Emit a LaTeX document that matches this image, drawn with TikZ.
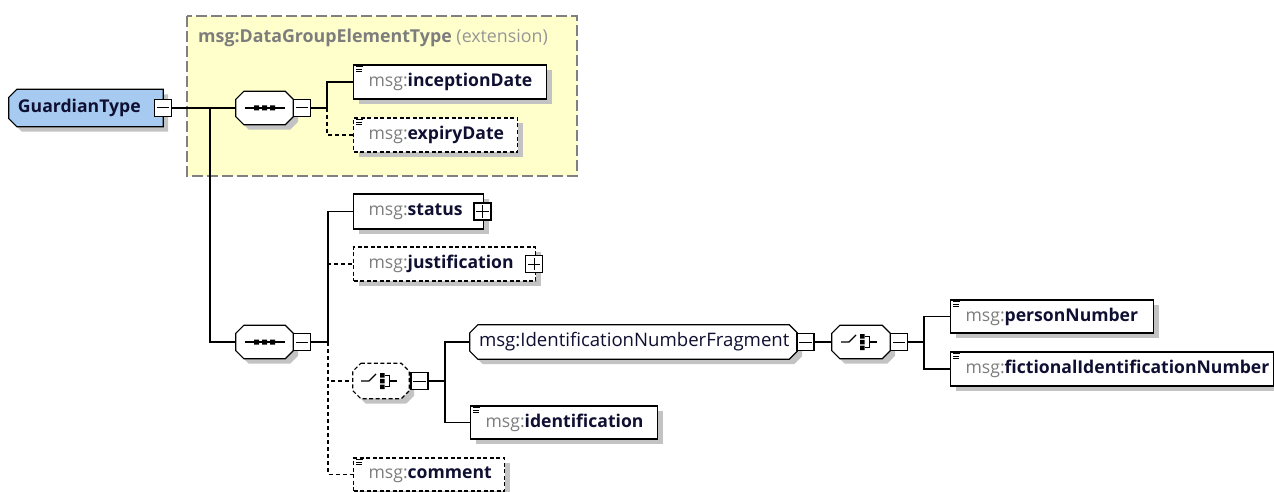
\documentclass[tikz,border=0pt]{standalone}
\usepackage{fontspec}
\setmainfont{Open Sans}
\usetikzlibrary{calc,shadows}
\pgfdeclarelayer{bg}
\pgfsetlayers{bg,main}
\definecolor{navy}{RGB}{15,15,50}
\definecolor{msggray}{RGB}{125,125,125}
\definecolor{extgray}{RGB}{150,150,150}
\definecolor{shadowc}{RGB}{195,195,195}
\definecolor{yelF}{RGB}{255,255,204}
\definecolor{yelD}{RGB}{128,128,128}
\definecolor{blueF}{RGB}{166,202,240}
\newcommand\efont{\fontsize{17.6}{20}\selectfont}
\newcommand\elname[1]{{\color{msggray}msg:}{\bfseries #1}}
\newcommand\chpath[4]{($(#1.north west)+(#2+#4,#4)$) -- ($(#1.north east)+(#4-#3,#4)$) -- ($(#1.north east)+(#4,#3+#4)$) -- ($(#1.south east)+(#4,#4-#3)$) -- ($(#1.south east)+(#4-#3,#4)$) -- ($(#1.south west)+(#2+#4,#4)$) -- ($(#1.south west)+(#4,#4-#2)$) -- ($(#1.north west)+(#4,#2+#4)$) -- cycle}
\newcommand\elem[7][]{\node[ebox,#1,minimum width=#5pt,minimum height=#6pt] (#2) at (#3,#4) {\hbox to #5pt{\hskip15pt #7\hss}};}
\newcommand\docicon[1]{\draw[line width=0.9pt] ($(#1.north west)+(3,2.5)$) -- ++(7,0) ($(#1.north west)+(3,5)$) -- ++(6,0) ($(#1.north west)+(3,7.5)$) -- ++(6,0);}
\newcommand\minusbox[3]{\node[pm] (#1) at (#2,#3) {}; \draw[line width=1pt] ($(#1.west)+(3,0)$) -- ($(#1.east)+(-3,0)$);}
\newcommand\plusbox[3]{\minusbox{#1}{#2}{#3}\draw[line width=1pt] ($(#1.north)+(0,3)$) -- ($(#1.south)+(0,-3)$);}
\newcommand\seqicon[1]{\draw[line width=1.1pt] ($(#1.center)+(-20,0)$) -- ++(40,0);
 \fill ($(#1.center)+(-10.5,-2.5)$) rectangle ++(5,5) ($(#1.center)+(-2.5,-2.5)$) rectangle ++(5,5) ($(#1.center)+(5.5,-2.5)$) rectangle ++(5,5);}
\newcommand\choiceicon[1]{\draw[line width=1.1pt] ($(#1.center)+(-20,0)$) -- ++(8,0) -- ++(7,-7);
 \fill ($(#1.center)+(-1,-8)$) rectangle ++(4.5,4.5) ($(#1.center)+(-1,-2.25)$) rectangle ++(4.5,4.5) ($(#1.center)+(-1,3.5)$) rectangle ++(4.5,4.5);
 \draw[line width=1.1pt] ($(#1.center)+(3.5,-5.75)$) -- ++(5,0) -- ++(0,11.5) -- ++(-5,0) ($(#1.center)+(8.5,0)$) -- ++(7,0);}
\tikzset{
 conn/.style={line width=1.2pt},
 optc/.style={line width=1.2pt, dash pattern=on 4pt off 3pt},
 ebox/.style={draw, line width=1.2pt, fill=white, inner sep=0pt, anchor=west, text=navy, font=\efont,
   drop shadow={shadow xshift=5pt, shadow yshift=-5pt, fill=shadowc, opacity=1}},
 optbox/.style={dash pattern=on 4pt off 2.5pt},
 pm/.style={draw, line width=1.1pt, fill=white, minimum size=17pt, inner sep=0pt},
 chbox/.style={inner sep=0pt, text=navy, font=\efont},
}
\begin{document}
\begin{tikzpicture}[x=1pt,y=-1pt]
\useasboundingbox (0,0) rectangle (1274,492);
% extension container
\begin{pgfonlayer}{bg}
\draw[yelD, fill=yelF, line width=1.2pt, dash pattern=on 11pt off 4pt] (187,16) rectangle (577,176);
\end{pgfonlayer}
\node[anchor=west, text=msggray, font=\fontsize{17.8}{20}\selectfont, inner sep=0pt] (extitle) at (198,38) {\bfseries msg:DataGroupElementType \mdseries\textcolor{extgray}{(extension)}};
% root
\node[chbox, minimum width=154pt, minimum height=37pt] (gt) at (86,108) {\hbox to 154pt{\hskip9pt\bfseries GuardianType\hss}};
% sequences and choices
\node[chbox, minimum width=57pt, minimum height=33pt] (seq1) at (264.5,108) {};
\node[chbox, minimum width=57pt, minimum height=33pt] (seq2) at (264.5,342) {};
\node[chbox, minimum width=56pt, minimum height=35pt] (ch1) at (381,381) {};
\node[chbox, minimum width=58pt, minimum height=33pt] (ch2) at (861,342) {};
\node[chbox, minimum width=327pt, minimum height=34pt, font=\fontsize{18.6}{20}\selectfont] (inf) at (633.5,342) {\hbox to 327pt{\hskip9pt msg:IdentificationNumberFragment\hss}};
\begin{pgfonlayer}{bg}
\fill[shadowc] \chpath{gt}{8}{0}{5};
\draw[conn, fill=blueF] \chpath{gt}{8}{0}{0};
\fill[shadowc] \chpath{seq1}{8}{8}{5};
\draw[conn, fill=white] \chpath{seq1}{8}{8}{0};
\fill[shadowc] \chpath{seq2}{8}{8}{5};
\draw[conn, fill=white] \chpath{seq2}{8}{8}{0};
\fill[shadowc] \chpath{ch1}{8}{8}{5};
\draw[conn, optbox, fill=white] \chpath{ch1}{8}{8}{0};
\fill[shadowc] \chpath{ch2}{8}{8}{5};
\draw[conn, fill=white] \chpath{ch2}{8}{8}{0};
\fill[shadowc] \chpath{inf}{8}{8}{5};
\draw[conn, fill=white] \chpath{inf}{8}{8}{0};
\end{pgfonlayer}
\seqicon{seq1}
\seqicon{seq2}
\choiceicon{ch1}
\choiceicon{ch2}
% elements
\elem{inc}{353}{82}{193}{34}{\elname{inceptionDate}}
\elem[optbox]{exp}{353}{135}{164}{34}{\elname{expiryDate}}
\elem{status}{353}{211.5}{130}{35}{\elname{status}}
\elem[optbox]{just}{353}{264}{182}{34}{\elname{justification}}
\elem{ident}{470}{422.5}{187}{33}{\elname{identification}}
\elem[optbox]{comment}{353}{474.5}{151}{33}{\elname{comment}}
\elem{person}{950}{316.5}{203}{33}{\elname{personNumber}}
\elem{fict}{950}{369}{323}{34}{\elname{fictionalIdentificationNumber}}
\docicon{inc}
\docicon{exp}
\docicon{ident}
\docicon{comment}
\docicon{person}
\docicon{fict}
% expand boxes
\minusbox{gtm}{163}{108}
\minusbox{seq1m}{302}{108}
\minusbox{seq2m}{302}{342}
\minusbox{ch1m}{419.5}{381}
\minusbox{infm}{805.5}{342}
\minusbox{ch2m}{899}{342}
\plusbox{statp}{482.5}{211.5}
\plusbox{justp}{534}{264}
% junctions
\coordinate (j0) at (210,108);
\coordinate (j1) at (327,108);
\coordinate (j2) at (328,342);
\coordinate (j3) at (445,381);
\coordinate (j4) at (924,342);
% connectors
\draw[conn] (gtm.east) -- (seq1.west);
\draw[conn] (j0) |- (seq2.west);
\draw[optc] (j1) |- (exp.west);
\draw[conn] (seq1m.east) -- (j1) |- (inc.west);
\draw[optc] (j2) |- (just.west);
\draw[optc] (j2) |- (ch1.west);
\draw[optc] (j2) |- (comment.west);
\draw[conn] (seq2m.east) -- (j2) |- (status.west);
\draw[conn] (ch1m.east) -- (j3) |- (inf.west);
\draw[conn] (j3) |- (ident.west);
\draw[conn] (infm.east) -- (ch2.west);
\draw[conn] (ch2m.east) -- (j4) |- (person.west);
\draw[conn] (j4) |- (fict.west);
\end{tikzpicture}
\end{document}
